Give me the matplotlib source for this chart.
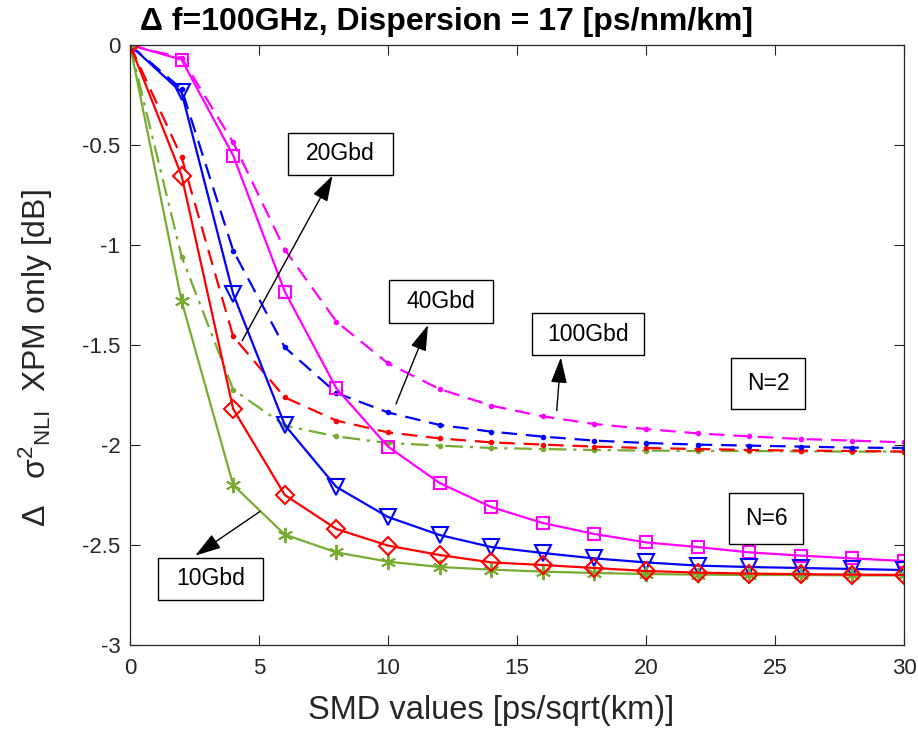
import numpy as np
import matplotlib
matplotlib.use("Agg")
import matplotlib.pyplot as plt
from matplotlib.patches import Rectangle

plt.rcParams['font.family'] = ['Liberation Sans', 'DejaVu Sans']
plt.rcParams['mathtext.fontset'] = 'custom'
plt.rcParams['mathtext.rm'] = 'Liberation Sans'
plt.rcParams['mathtext.it'] = 'Liberation Sans:italic'
plt.rcParams['mathtext.bf'] = 'Liberation Sans:bold'

smd = [0, 2, 4, 6, 8, 10, 12, 14, 16, 18, 20, 22, 24, 26, 28, 30]

# N=6 (solid, markers)
n6_10g = [0, -1.28, -2.20, -2.448, -2.537, -2.583, -2.61, -2.623, -2.633, -2.64, -2.645, -2.648, -2.65, -2.65, -2.652, -2.652]
n6_20g = [0, -0.653, -1.82, -2.25, -2.42, -2.503, -2.55, -2.587, -2.60, -2.615, -2.63, -2.638, -2.643, -2.646, -2.648, -2.65]
n6_40g = [0, -0.237, -1.245, -1.90, -2.21, -2.36, -2.45, -2.51, -2.54, -2.567, -2.587, -2.603, -2.61, -2.615, -2.62, -2.625]
n6_100g = [0, -0.073, -0.553, -1.233, -1.717, -2.008, -2.19, -2.31, -2.39, -2.445, -2.487, -2.51, -2.537, -2.553, -2.567, -2.58]

# N=2 (dashed, dot markers)
n2_10g = [0, -1.058, -1.723, -1.903, -1.957, -1.99, -2.003, -2.015, -2.02, -2.025, -2.028, -2.03, -2.03, -2.032, -2.033, -2.033]
n2_20g = [0, -0.562, -1.457, -1.762, -1.878, -1.937, -1.967, -1.987, -1.998, -2.008, -2.015, -2.02, -2.025, -2.028, -2.03, -2.033]
n2_40g = [0, -0.22, -1.028, -1.512, -1.74, -1.837, -1.90, -1.933, -1.958, -1.978, -1.99, -1.998, -2.003, -2.008, -2.013, -2.015]
n2_100g = [0, -0.065, -0.487, -1.023, -1.383, -1.592, -1.72, -1.803, -1.857, -1.895, -1.92, -1.942, -1.957, -1.97, -1.978, -1.987]

# annotation labels
box_labels = ['20Gbd', '40Gbd', '100Gbd', '10Gbd', 'N=2', 'N=6']

green = '#77AC30'
dark = '#262626'

fig = plt.figure(figsize=(9.18, 7.29), dpi=100)
ax = fig.add_axes([130/918, 1 - 645/729, 774/918, 600/729])

dash = (7, 4)
ax.plot(smd, n2_10g, color=green, lw=1.6, ls=(0, (8, 3, 1.5, 3)), marker='.', ms=6)
ax.plot(smd, n2_20g, color='red', lw=1.6, ls=(0, dash), marker='.', ms=6)
ax.plot(smd, n2_40g, color='blue', lw=1.6, ls=(0, dash), marker='.', ms=6)
ax.plot(smd, n2_100g, color='magenta', lw=1.6, ls=(0, dash), marker='.', ms=6)

ax.plot(smd, n6_100g, color='magenta', lw=1.6, marker='s', ms=9, mfc='none', mew=1.5)
ax.plot(smd, n6_40g, color='blue', lw=1.6, marker='v', ms=12, mfc='none', mew=1.5)
ax.plot(smd, n6_10g, color=green, lw=1.6, marker=(6, 2, 0), ms=11, mew=1.4)
ax.plot(smd, n6_20g, color='red', lw=1.6, marker='D', ms=9, mfc='none', mew=1.5)

ax.set_xlim(0, 30)
ax.set_ylim(-3, 0)
ax.set_xticks([0, 5, 10, 15, 20, 25, 30])
ax.set_yticks([-3, -2.5, -2, -1.5, -1, -0.5, 0])
ax.set_yticklabels(['-3', '-2.5', '-2', '-1.5', '-1', '-0.5', '0'])
ax.tick_params(direction='in', top=True, right=True, labelsize=16, length=7, width=0.8, colors=dark)
ax.tick_params(axis='x', pad=9)
ax.tick_params(axis='y', pad=7)
for s in ax.spines.values():
    s.set_color(dark)
    s.set_linewidth(0.9)

ax.set_xlabel('SMD values [ps/sqrt(km)]', fontsize=23.5, color=dark)
ax.xaxis.set_label_coords((491 - 130) / 774, -(710 - 645) / 600)
ax.xaxis.label.set_va('center')
ax.set_ylabel(r'$\Delta$   σ$^{2}$$_{\mathrm{NLI}}$  XPM only [dB]', fontsize=23, color=dark)
ax.yaxis.set_label_coords(-(130 - 36) / 774, (645 - 358) / 600)
ax.yaxis.label.set_va('center')

fig.text(447/918, 1 - 22/729, 'Δ f=100GHz, Dispersion = 17 [ps/nm/km]', fontsize=23,
         fontweight='bold', ha='center', va='center')

arrow = dict(arrowstyle='-|>,head_length=1.6,head_width=0.5', color='black', lw=1.0,
             shrinkA=0, shrinkB=0)
ax.annotate('', xy=(7.85, -0.653), xytext=(4.35, -1.478), arrowprops=arrow)
ax.annotate('', xy=(11.55, -1.40), xytext=(10.31, -1.795), arrowprops=arrow)
ax.annotate('', xy=(16.7, -1.562), xytext=(16.54, -1.828), arrowprops=arrow)
ax.annotate('', xy=(2.53, -2.553), xytext=(5.03, -2.333), arrowprops=arrow)

# boxes: (x0, x1, y_top, y_bottom) in data units
boxes = [(6.12, 10.19, -0.44, -0.65),
         (10.04, 14.06, -1.175, -1.388),
         (15.57, 19.93, -1.342, -1.55),
         (1.10, 5.14, -2.563, -2.775),
         (23.29, 26.16, -1.567, -1.822),
         (23.23, 26.09, -2.242, -2.495)]
for lab, (x0, x1, yt, yb) in zip(box_labels, boxes):
    ax.add_patch(Rectangle((x0, yb), x1 - x0, yt - yb, fc='white', ec='black', lw=1.0, zorder=5))
    ax.text((x0 + x1) / 2, (yt + yb) / 2, lab, fontsize=16.5, ha='center', va='center', zorder=6)

fig.savefig('out.png', dpi=100)
